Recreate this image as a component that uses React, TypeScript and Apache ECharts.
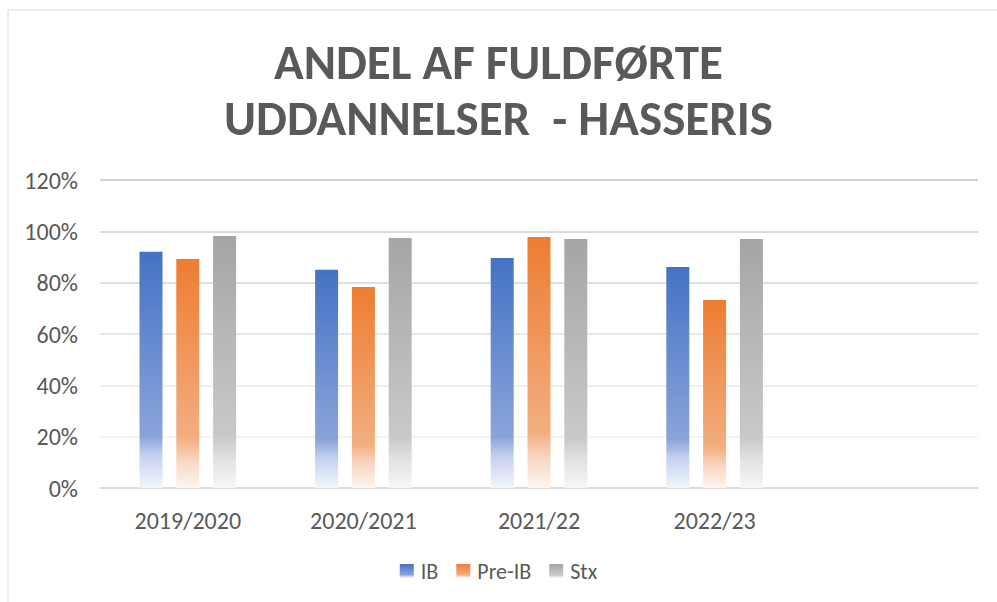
import React, { useEffect, useRef } from "react";
import * as echarts from "echarts";

const categories = ["2019/2020", "2020/2021", "2021/22", "2022/23", ""];
const ibValues = [0.92, 0.85, 0.896, 0.861, null];
const preIbValues = [0.892, 0.783, 0.978, 0.732, null];
const stxValues = [0.982, 0.974, 0.97, 0.97, null];
const seriesNames = ["IB", "Pre-IB", "Stx"];
const titleText = "ANDEL AF FULDFØRTE\nUDDANNELSER  - HASSERIS";

const FONT = "Carlito, Lato, 'Open Sans', sans-serif";

function grad(stops: [number, string][]) {
  return new echarts.graphic.LinearGradient(
    0, 0, 0, 1,
    stops.map(([offset, color]) => ({ offset, color }))
  );
}

const palettes = [
  grad([[0, "#4472C4"], [0.78, "#8AA4DA"], [0.86, "#C3D0EE"], [1, "#F2F5FC"]]),
  grad([[0, "#ED7D31"], [0.78, "#F2AE80"], [0.88, "#F8D6C0"], [1, "#FDF6F1"]]),
  grad([[0, "#A5A5A5"], [0.8, "#C9C9C9"], [0.88, "#E0E0E0"], [1, "#F7F7F7"]]),
];

export default function App() {
  const ref = useRef<HTMLDivElement>(null);
  useEffect(() => {
    if (!ref.current) return;
    const chart = echarts.init(ref.current, undefined, { renderer: "svg" });
    const data = [ibValues, preIbValues, stxValues];
    chart.setOption({
      animation: false,
      backgroundColor: "#ffffff",
      title: {
        text: titleText,
        left: "center",
        top: 29,
        textStyle: {
          fontFamily: FONT,
          fontWeight: "bold",
          fontSize: 49,
          lineHeight: 56,
          color: "#595959",
        },
      },
      graphic: [
        {
          type: "rect",
          shape: { x: 8, y: 10, width: 1000, height: 600 },
          style: { fill: "none", stroke: "#D9D9D9", lineWidth: 1 },
          silent: true,
        },
      ],
      legend: {
        bottom: 15,
        left: "center",
        icon: "rect",
        itemWidth: 14,
        itemHeight: 14,
        itemGap: 18,
        textStyle: { fontFamily: FONT, fontSize: 22, color: "#595959", padding: [0, 0, 0, 2] },
        data: seriesNames,
      },
      grid: { left: 100, right: 19, top: 180, bottom: 114 },
      xAxis: {
        type: "category",
        data: categories,
        axisLine: { show: true, lineStyle: { color: "#D9D9D9", width: 1.5 } },
        axisTick: { show: false },
        axisLabel: {
          fontFamily: FONT,
          fontSize: 24,
          color: "#595959",
          margin: 20,
        },
      },
      yAxis: {
        type: "value",
        min: 0,
        max: 1.2,
        interval: 0.2,
        axisLine: { show: false },
        axisTick: { show: false },
        axisLabel: {
          fontFamily: FONT,
          fontSize: 24,
          color: "#595959",
          margin: 22,
          formatter: (v: number) => `${Math.round(v * 100)}%`,
        },
        splitLine: {
          lineStyle: {
            width: 1.5,
            color: ["#D9D9D9", "#F0F0F0", "#EAEAEA", "#E0E0E0", "#D6D6D6", "#CCCCCC", "#C4C4C4"],
          },
        },
      },
      series: seriesNames.map((name, i) => ({
        name,
        type: "bar",
        data: data[i],
        barWidth: 23,
        barGap: "60%",
        itemStyle: { color: palettes[i] },
      })),
    });
    return () => chart.dispose();
  }, []);
  return <div ref={ref} style={{ width: 997, height: 602, position: "absolute", left: 0, top: 0 }} />;
}
